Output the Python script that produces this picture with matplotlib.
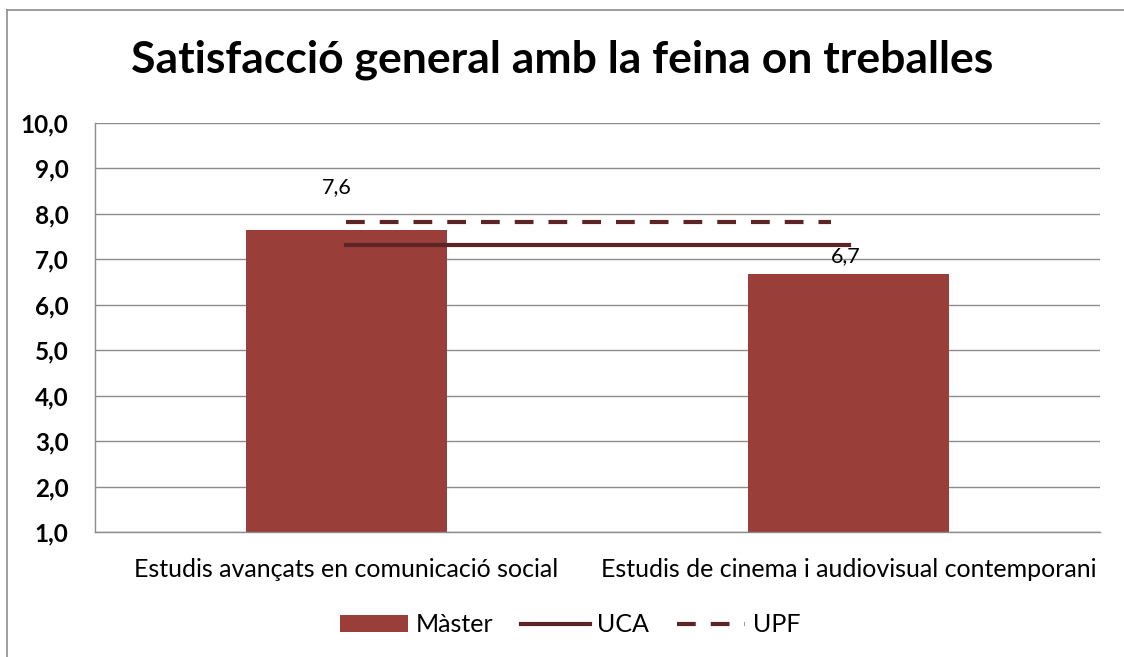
import matplotlib
matplotlib.use("Agg")
import matplotlib.pyplot as plt
from matplotlib.ticker import FuncFormatter, MultipleLocator
from matplotlib.lines import Line2D

categories = ["Estudis avançats en comunicació social",
              "Estudis de cinema i audiovisual contemporani"]
master = [7.64, 6.67]
master_labels = ["7,6", "6,7"]
uca = [7.31, 7.31]
upf = [7.81, 7.81]
title = "Satisfacció general amb la feina on treballes"

plt.rcParams['font.family'] = ['Lato', 'DejaVu Sans']

bar_color = "#9a3e3a"
line_color = "#5c2424"

fig = plt.figure(figsize=(11.24, 6.57), dpi=100)
fig.add_artist(Line2D([7/1124, 7/1124], [0, 1 - 10/657], transform=fig.transFigure,
                      color="#8c8c8c", linewidth=1.2))
fig.add_artist(Line2D([7/1124, 1], [1 - 10/657, 1 - 10/657], transform=fig.transFigure,
                      color="#8c8c8c", linewidth=1.2))
ax = fig.add_axes([95/1124, 1 - 532/657, (1100 - 95)/1124, (532 - 122.7)/657])

x = list(range(len(categories)))
h_bar = ax.bar(x, master, width=0.4, color=bar_color, label="Màster", zorder=2)
h_uca, = ax.plot(x, uca, color=line_color, linewidth=3.0, label="UCA", zorder=3)
h_upf, = ax.plot([x[0], x[-1] - 0.035], upf, color=line_color, linewidth=3.0,
                 linestyle=(0, (4.5, 3.6)), label="UPF", zorder=3)

offsets = [(-7, 31), (-2, 13)]
for xi, v, lab, off in zip(x, master, master_labels, offsets):
    ax.annotate(lab, (xi, v), xytext=off, textcoords="offset points",
                ha="center", va="center", fontsize=15.5, zorder=4)

ax.set_xlim(-0.5, 1.5)
ax.set_ylim(1, 10)
ax.yaxis.set_major_locator(MultipleLocator(1))
ax.yaxis.set_major_formatter(FuncFormatter(lambda v, p: f"{v:.1f}".replace(".", ",")))
ax.set_xticks(x)
ax.set_xticklabels(categories, fontsize=18)
ax.tick_params(axis="y", length=0, pad=19, labelsize=17.5)
ax.tick_params(axis="x", length=0, pad=19)
for lab in ax.get_yticklabels():
    lab.set_fontweight("bold")
ax.grid(axis="y", color="#8c8c8c", linewidth=1.0, zorder=0)
ax.set_axisbelow(True)
for s in ["top", "right"]:
    ax.spines[s].set_visible(False)
for s in ["left", "bottom"]:
    ax.spines[s].set_color("#8c8c8c")
    ax.spines[s].set_linewidth(1.0)

fig.text(0.5, 1 - 60/657, title, ha="center", va="center", fontsize=32, fontweight="bold")

fig.legend([h_bar, h_uca, h_upf], ["Màster", "UCA", "UPF"],
           loc="center", bbox_to_anchor=(570/1124, 1 - 625/657), ncol=3, frameon=False,
           fontsize=18, handlelength=2.75, handleheight=0.65, handletextpad=0.3,
           columnspacing=1.1)

fig.savefig("out.png", dpi=100, facecolor="white")
